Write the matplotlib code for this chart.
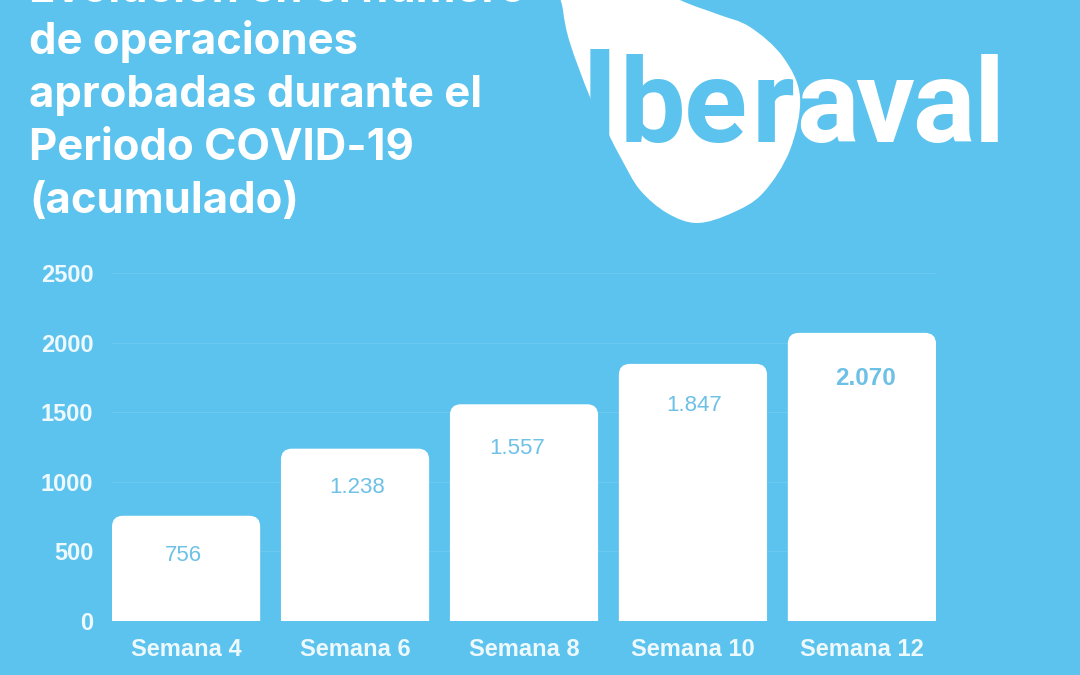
""" Evolucion del numero de operaciones aprobadas, Iberaval. """

import matplotlib
matplotlib.use("Agg")
import matplotlib.pyplot as plt
from matplotlib.path import Path
from matplotlib.patches import PathPatch

BG_COLOR = "#5bc3ee"
GRID_COLOR = "#6bc9f0"
LABEL_COLOR = "#eef9fd"
VALUE_COLOR = "#6dc0e6"

categories = ["Semana 4", "Semana 6", "Semana 8", "Semana 10", "Semana 12"]
values = [756, 1238, 1557, 1847, 2070]
value_labels = ["756", "1.238", "1.557", "1.847", "2.070"]
y_ticks = [0, 500, 1000, 1500, 2000, 2500]
title_lines = ["Evolución en el número", "de operaciones", "aprobadas durante el",
               "Periodo COVID-19", "(acumulado)"]

# where each value label sits relative to the bar top centre, in pixels
label_dx = [-3, 2, -7, 1, 4]
label_dy = [-40, -39, -44, -42, -46]

# logo outline, in image pixels
blob_points = [(560, -30), (563, 10), (570, 43), (590, 97), (608, 133), (622, 160), (640, 190),
               (667, 213), (697, 223), (732, 213), (763, 193), (790, 150), (800, 97),
               (783, 57), (750, 27), (717, 14), (680, 0), (620, -30)]
# logo letters: letter, centre x, colour
logo_letters = [("I", 599, BG_COLOR), ("b", 652, BG_COLOR), ("e", 715, BG_COLOR), ("r", 773, BG_COLOR),
                ("a", 827, "white"), ("v", 885, "white"), ("a", 943, "white"), ("l", 989, "white")]


def smooth_closed_path(points):
    # catmull-rom through the points, written as bezier segments
    n = len(points)
    verts = [points[0]]
    codes = [Path.MOVETO]
    for i in range(n):
        p0, p1, p2, p3 = points[i - 1], points[i], points[(i + 1) % n], points[(i + 2) % n]
        verts.append((p1[0] + (p2[0] - p0[0]) / 6, p1[1] + (p2[1] - p0[1]) / 6))
        verts.append((p2[0] - (p3[0] - p1[0]) / 6, p2[1] - (p3[1] - p1[1]) / 6))
        verts.append(p2)
        codes += [Path.CURVE4] * 3
    return Path(verts, codes)


def rounded_bar(x, height, width, rx, ry):
    left, right = x - width / 2, x + width / 2
    verts = [(left, 0), (left, height - ry), (left, height), (left + rx, height),
             (right - rx, height), (right, height), (right, height - ry), (right, 0), (left, 0)]
    codes = [Path.MOVETO, Path.LINETO, Path.CURVE3, Path.CURVE3,
             Path.LINETO, Path.CURVE3, Path.CURVE3, Path.LINETO, Path.CLOSEPOLY]
    return Path(verts, codes)


def draw_header(fig):
    over = fig.add_axes([0, 0, 1, 1], zorder=3)
    over.set_xlim(0, 1080)
    over.set_ylim(675, 0)
    over.axis("off")

    baseline = 1.5
    for line in title_lines:
        over.text(29, baseline, line, color="white", fontsize=31.4, family="Inter",
                  fontweight="bold", va="baseline", ha="left")
        baseline += 52.8

    over.add_patch(PathPatch(smooth_closed_path(blob_points), facecolor="white", edgecolor="none"))
    for letter, x, color in logo_letters:
        size = 93 if letter == "I" else 84
        over.text(x, 142, letter, color=color, fontsize=size, family="Roboto", fontweight="bold",
                  va="baseline", ha="center")


def main():
    fig = plt.figure(figsize=(10.8, 6.75), dpi=100, facecolor=BG_COLOR)

    # bars span 112..936 px, y axis 621..273 px
    ax = fig.add_axes([112 / 1080, (675 - 621) / 675, 824 / 1080, 348 / 675], facecolor=BG_COLOR)
    bar_width = 148 / 168.75
    ax.set_xlim(-bar_width / 2, len(values) - 1 + bar_width / 2)
    ax.set_ylim(0, 2500)
    x_per_px = (len(values) - 1 + bar_width) / 824
    y_per_px = 2500 / 348

    for tick in y_ticks:
        ax.axhline(tick, color=GRID_COLOR, linewidth=0.8, zorder=1)

    for i, value in enumerate(values):
        bar = rounded_bar(i, value, bar_width, 11 * x_per_px, 11 * y_per_px)
        ax.add_patch(PathPatch(bar, facecolor="white", edgecolor="none", zorder=2))
        last = i == len(values) - 1
        ax.annotate(value_labels[i], (i, value), xytext=(label_dx[i], label_dy[i]),
                    textcoords="offset pixels", ha="center", va="center", color=VALUE_COLOR,
                    fontsize=17.5 if last else 16, family="Liberation Sans",
                    fontweight="bold" if last else "normal", zorder=3)

    for side in ax.spines.values():
        side.set_visible(False)
    ax.set_xticks(range(len(categories)))
    ax.set_xticklabels(categories)
    ax.set_yticks(y_ticks)
    ax.tick_params(length=0)
    ax.tick_params(axis="x", pad=12.5)
    ax.tick_params(axis="y", pad=13.5)
    for label in ax.get_xticklabels() + ax.get_yticklabels():
        label.set_family("Liberation Sans")
        label.set_fontweight("bold")
        label.set_fontsize(17)
        label.set_color(LABEL_COLOR)

    draw_header(fig)
    fig.savefig("out.png", dpi=100, facecolor=BG_COLOR)


if __name__ == "__main__":
    main()
